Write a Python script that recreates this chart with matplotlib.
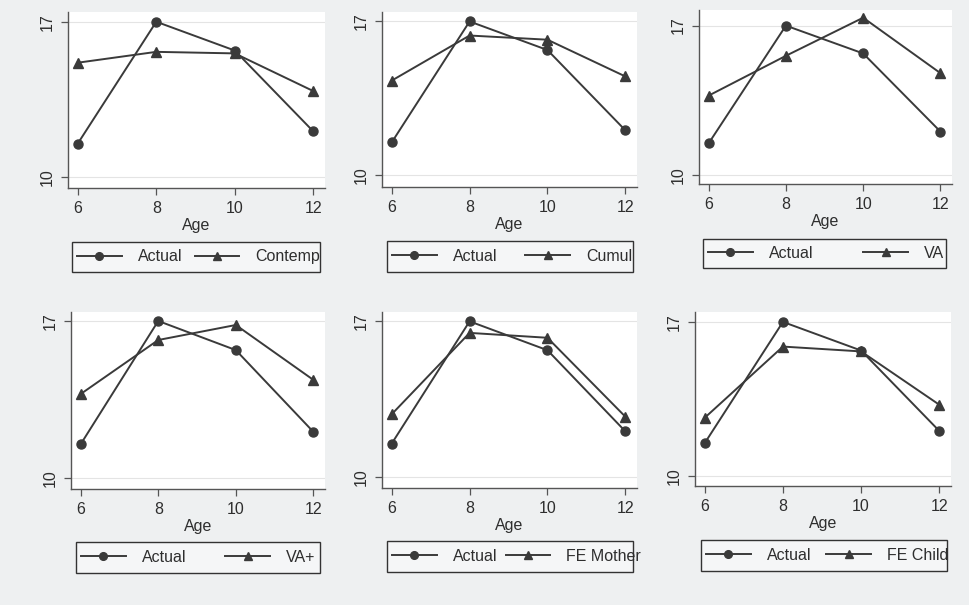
import numpy as np
import matplotlib
matplotlib.use("Agg")
import matplotlib.pyplot as plt
from matplotlib.patches import Rectangle

plt.rcParams['font.family'] = ['Liberation Sans', 'DejaVu Sans']

# mean score by age: actual vs each model's prediction
ages = [6, 8, 10, 12]
actual = [11.5, 17.0, 15.7, 12.05]
contemp = [15.15, 15.64, 15.57, 13.87]
cumul = [14.31, 16.36, 16.17, 14.5]
va = [13.73, 15.59, 17.37, 14.78]
va_plus = [13.74, 16.15, 16.82, 14.37]
fe_mother = [12.82, 16.48, 16.26, 12.71]
fe_child = [12.65, 15.88, 15.66, 13.24]

models = ["Contemp", "Cumul", "VA", "VA+", "FE Mother", "FE Child"]
preds = [contemp, cumul, va, va_plus, fe_mother, fe_child]

W, H = 969, 605
bg = '#eef0f1'
line_col = '#3a3a3a'
txt_col = '#2e2e2e'
fs = 11.5

# panel boxes in pixels: left, right, top, bottom
boxes = [(68, 325, 12, 188), (382, 637, 12, 187), (699, 952, 10, 184),
         (71, 325, 312, 489), (382, 637, 312, 488), (695, 951, 312, 486)]
# legend frames in pixels: left, right, top, bottom
leg_boxes = [(72, 320, 242, 272), (387, 633, 241, 272), (703, 946, 239, 268),
             (76, 320, 542, 573), (387, 633, 541, 572), (701, 947, 540, 571)]
# how far the second label runs past the legend frame (px)
overrun = [5, 4, 3, 0, 13, 6]
ylims = [(9.49, 17.44), (9.47, 17.43), (9.6, 17.73),
         (9.5, 17.4), (9.5, 17.42), (9.55, 17.45)]

fig = plt.figure(figsize=(W / 100, H / 100), dpi=100, facecolor=bg)

for i in range(6):
    l, r, t, b = boxes[i]
    ax = fig.add_axes([l / W, 1 - b / H, (r - l) / W, (b - t) / H])
    ax.set_facecolor('white')
    ax.plot(ages, actual, color=line_col, lw=1.4, marker='o', ms=6.5, label='Actual')
    ax.plot(ages, preds[i], color=line_col, lw=1.4, marker='^', ms=7, label=models[i])
    ax.set_xlim(5.75, 12.3)
    ax.set_ylim(*ylims[i])
    ax.set_xticks([6, 8, 10, 12])
    ax.set_yticks([10, 17])
    ax.set_yticklabels(['10', '17'], rotation=90, va='center')
    ax.yaxis.grid(True, color='#e4e4e4', lw=0.8)
    ax.set_axisbelow(True)
    for s in ['top', 'right']:
        ax.spines[s].set_visible(False)
    for s in ['left', 'bottom']:
        ax.spines[s].set_color('#555555')
        ax.spines[s].set_linewidth(1.0)
    ax.tick_params(direction='out', length=5, width=0.9, color='#555555',
                   labelsize=fs, labelcolor=txt_col, pad=4.5)
    ax.set_xlabel('Age', fontsize=fs, color=txt_col, labelpad=1.5)

    # legend frame sits under the axes, the legend is laid out inside it
    ll, lr, lt, lb = leg_boxes[i]
    fig.patches.append(Rectangle((ll / W, 1 - lb / H), (lr - ll) / W, (lb - lt) / H,
                                 transform=fig.transFigure, facecolor='#f5f6f7',
                                 edgecolor='#333333', lw=1.0, zorder=-1))
    ext = overrun[i]
    leg = ax.legend(loc='center left', ncol=2, mode='expand',
                    bbox_to_anchor=(ll / W, 1 - lb / H, (lr - ll + ext) / W, (lb - lt) / H),
                    bbox_transform=fig.transFigure, fontsize=fs, frameon=False,
                    handlelength=2.8, borderaxespad=0, borderpad=0.3, markerscale=0.85,
                    columnspacing=1.0, handletextpad=1.0)
    for txt in leg.get_texts():
        txt.set_color(txt_col)

fig.savefig('out.png', dpi=100, facecolor=bg)
